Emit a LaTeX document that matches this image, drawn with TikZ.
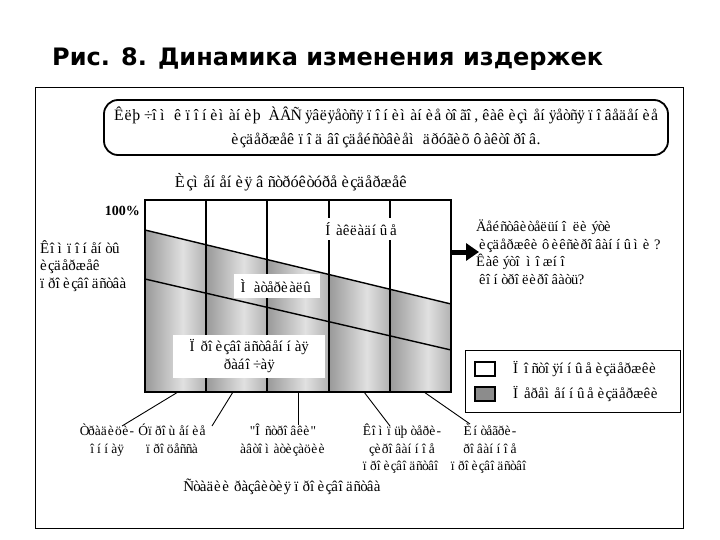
\documentclass[tikz,border=0pt]{standalone}
\usepackage{fontspec}
\setmainfont{Liberation Serif}
\newfontfamily\titlefont{DejaVu Sans}[BoldFont={DejaVu Sans Bold}]
\newfontfamily\moji{Liberation Serif}
\usetikzlibrary{arrows.meta}
% mojibake rendering: Latin-1 glyph on the advance width of the cp1251 Cyrillic letter
\newbox\mjbox
\newcount\mjc
\newcommand\mojichar[1]{\setbox\mjbox\hbox{\char\numexpr#1+848\relax}\hbox to\wd\mjbox{\char#1\hss}}
\mjc="C0
\loop
  \begingroup\lccode`\~=\mjc
  \lowercase{\endgroup\edef~{\noexpand\mojichar{\the\mjc}}}%
  \catcode\mjc=13
  \advance\mjc by 1
\ifnum\mjc<"100 \repeat
\begin{document}
\begin{tikzpicture}[x=1pt,y=-1pt,
  txt/.style={font=\moji\fontsize{15}{17.5}\selectfont, inner sep=0pt, align=center},
  smalltxt/.style={txt, font=\moji\fontsize{13.5}{17.5}\selectfont},
  whitelbl/.style={txt, fill=white, inner xsep=6pt, inner ysep=5pt},
  chartline/.style={line width=1.4pt},
  leader/.style={line width=0.9pt}]
\useasboundingbox (0,0) rectangle (720,540);
\fill[white] (0,0) rectangle (720,540);

% title
\node[anchor=base west, inner sep=0pt, font=\titlefont\bfseries\fontsize{24}{28}\selectfont] (title) at (52,66) {Рис. 8. Динамика изменения издержек};

% frame
\draw[line width=1pt] (35,88) rectangle (683,528);

% top rounded box
\node[draw, line width=1.8pt, rounded corners=14pt, minimum width=564pt, minimum height=55pt,
      font=\moji\fontsize{15.8}{24}\selectfont, align=center, inner sep=0pt] (topbox) at (386,127.5)
  {Êëþ÷îì ê ïîíèìàíèþ ÀÂÑ ÿâëÿåòñÿ ïîíèìàíèå òîãî, êàê èçìåíÿåòñÿ ïîâåäåíèå\\èçäåðæåê ïîä âîçäåéñòâèåì äðóãèõ ôàêòîðîâ.};

% chart title
\node[txt, font=\moji\fontsize{16.4}{18}\selectfont] (ctitle) at (291,182) {Èçìåíåíèÿ â ñòðóêòóðå èçäåðæåê};

% chart coordinates
\coordinate (cTL) at (145,200);
\coordinate (cBR) at (451,392);
\coordinate (topL) at (145,230);
\coordinate (topR) at (451,304);
\coordinate (midL) at (145,279);
\coordinate (midR) at (451,350);

% shading
\begin{scope}
\clip (topL) -- (topR) -- (451,392) -- (145,392) -- cycle;
\foreach \a/\b in {145/206,206/267,267/329,329/390,390/451}{
  \pgfmathsetmacro\m{\a+0.62*(\b-\a)}
  \shade[left color=black!40,right color=black!12] (\a,200) rectangle (\m,392);
  \shade[left color=black!12,right color=black!30] (\m,200) rectangle (\b,392);
}
\end{scope}

% vertical lines
\foreach \x in {206,267,329,390}{
  \draw[chartline] (\x,200) -- (\x,392);
}
\draw[chartline] (topL) -- (topR);
\draw[chartline] (midL) -- (midR);

% labels in chart
\node[whitelbl, inner xsep=4pt, inner ysep=4pt] (over) at (361,229) {Íàêëàäíûå};
\node[whitelbl, minimum width=86pt, minimum height=24pt] (mat) at (277,286) {Ìàòåðèàëû};
\node[whitelbl, minimum width=152pt, minimum height=43pt] (lab) at (249,356) {Ïðîèçâîäñòâåííàÿ\\ðàáî÷àÿ};

% chart frame
\draw[chartline] (cTL) rectangle (cBR);

% left labels
\node[anchor=base east, inner sep=0pt, font=\bfseries\fontsize{14}{16}\selectfont] (pct) at (140,215) {100\%};
\node[txt, anchor=north west, align=left] (comp) at (40,240) {Êîìïîíåíòû\\èçäåðæåê\\ïðîèçâîäñòâà};

% arrow and question
\coordinate (arrS) at (451,252);
\coordinate (arrE) at (479,252);
\draw[line width=5pt, -{Triangle[length=13pt,width=17pt]}] (arrS) -- (arrE);
\node[txt, font=\moji\fontsize{14.5}{17.5}\selectfont, anchor=north west, align=left] (quest) at (476,220)
  {Äåéñòâèòåëüíî ëè ýòè\\\hspace{3pt}èçäåðæêè ôèêñèðîâàííûìè ?\\Êàê ýòî ìîæíî\\\hspace{3pt}êîíòðîëèðîâàòü?};

% legend
\node[draw, line width=1pt, minimum width=215pt, minimum height=62pt, inner sep=0pt] (legend) at (572.5,381) {};
\node[draw, line width=1.3pt, fill=white, minimum width=20pt, minimum height=14pt, inner sep=0pt] (swW) at (485,369) {};
\node[draw, line width=2pt, fill=black!45, minimum width=20pt, minimum height=14pt, inner sep=0pt] (swG) at (485,394) {};
\node[txt, anchor=west] (legW) at (513,369) {Ïîñòîÿííûå èçäåðæêè};
\node[txt, anchor=west] (legG) at (513,394) {Ïåðåìåííûå èçäåðæêè};

% bottom labels
\node[smalltxt, anchor=north] (l1) at (107,424) {Òðàäèöè-\\îííàÿ};
\node[smalltxt, anchor=north] (l2) at (172,424) {Óïðîùåíèå\\ïðîöåññà};
\node[smalltxt, anchor=north] (l3) at (283,424) {"Îñòðîâêè"\\àâòîìàòèçàöèè};
\node[smalltxt, anchor=north] (l4) at (402,424) {Êîìïüþòåðè-\\çèðîâàííîå\\ïðîèçâîäñòâî};
\node[smalltxt, anchor=north] (l5) at (490,424) {Èíòåãðè-\\ðîâàííîå\\ïðîèçâîäñòâî};

\coordinate (s1) at (178,392); \coordinate (e1) at (122,426);
\coordinate (s2) at (233,392); \coordinate (e2) at (212,426);
\coordinate (s3) at (298,392); \coordinate (e3) at (298,425);
\coordinate (s4) at (364,392); \coordinate (e4) at (390,426);
\coordinate (s5) at (424,392); \coordinate (e5) at (470,424);
\draw[leader] (s1) -- (e1);
\draw[leader] (s2) -- (e2);
\draw[leader] (s3) -- (e3);
\draw[leader] (s4) -- (e4);
\draw[leader] (s5) -- (e5);

\node[txt] (stages) at (282,487) {Ñòàäèè ðàçâèòèÿ ïðîèçâîäñòâà};
\end{tikzpicture}
\end{document}
